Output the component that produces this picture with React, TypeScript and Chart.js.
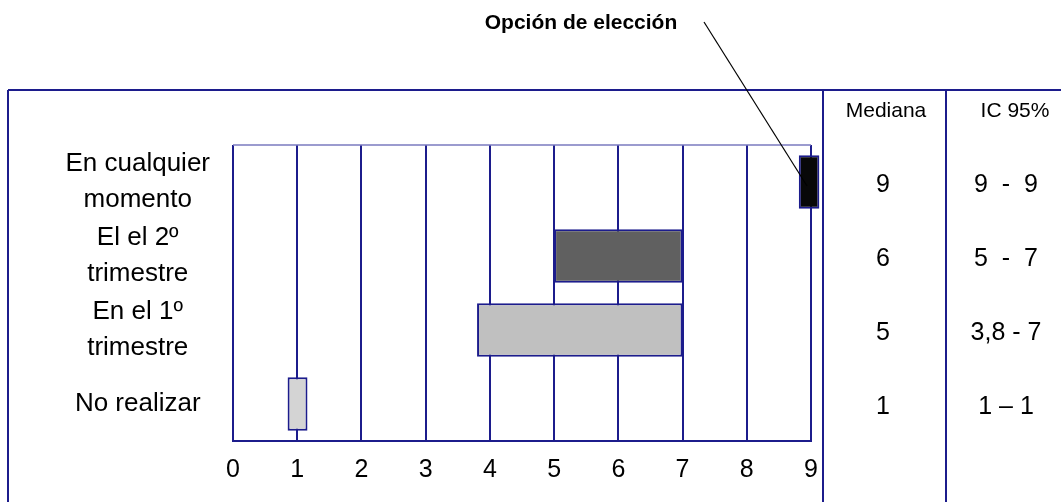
import React, { useEffect, useRef } from 'react';
import { Chart, registerables } from 'chart.js';

Chart.register(...registerables);

const categories: (string | string[])[] = [
  ['En cualquier', 'momento'],
  ['El el 2º', 'trimestre'],
  ['En el 1º', 'trimestre'],
  'No realizar',
];
const lowValues = [8.81, 5, 3.8, 0.85];
const highValues = [9.13, 7, 7, 1.16];
const barColors = ['#080808', '#606060', '#c0c0c0', '#d4d4d4'];
const medianLabels = ['9', '6', '5', '1'];
const ciLabels = ['9  -  9', '5  -  7', '3,8 - 7', '1 – 1'];
const tableHeaders = ['Mediana', 'IC 95%'];
const calloutText = 'Opción de elección';
const calloutIndex = 0;

const NAVY = '#1c1c8c';
const FONT = "'Liberation Sans', Arial, sans-serif";

const framePlugin = {
  id: 'framePlugin',
  afterDraw(chart: any) {
    const ctx = chart.ctx as CanvasRenderingContext2D;
    const area = chart.chartArea;
    const xs = chart.scales.x;
    const ys = chart.scales.y;
    const W = chart.width;
    const H = chart.height;
    ctx.save();
    // top border of plot
    ctx.strokeStyle = '#7a7abf';
    ctx.lineWidth = 1.5;
    ctx.beginPath();
    ctx.moveTo(area.left, area.top);
    ctx.lineTo(area.right, area.top);
    ctx.stroke();
    // outer frame
    ctx.strokeStyle = NAVY;
    ctx.lineWidth = 2;
    ctx.beginPath();
    ctx.moveTo(8, 90);
    ctx.lineTo(W, 90);
    ctx.moveTo(8, 90);
    ctx.lineTo(8, H);
    ctx.moveTo(823, 90);
    ctx.lineTo(823, H);
    ctx.moveTo(946, 90);
    ctx.lineTo(946, H);
    ctx.stroke();
    // table
    ctx.fillStyle = '#000';
    ctx.textAlign = 'center';
    ctx.textBaseline = 'middle';
    ctx.font = `21px ${FONT}`;
    ctx.fillText(tableHeaders[0], 886, 111);
    ctx.fillText(tableHeaders[1], 1015, 111);
    ctx.font = `25px ${FONT}`;
    for (let i = 0; i < medianLabels.length; i++) {
      const y = ys.getPixelForValue(i) + 3;
      ctx.fillText(medianLabels[i], 883, y);
      ctx.fillText(ciLabels[i], 1006, y);
    }
    // callout
    ctx.font = `bold 21px ${FONT}`;
    ctx.textBaseline = 'alphabetic';
    ctx.fillText(calloutText, 581, 29);
    const tx = xs.getPixelForValue((lowValues[calloutIndex] + highValues[calloutIndex]) / 2) - 2;
    const ty = ys.getPixelForValue(calloutIndex) + 4;
    ctx.strokeStyle = '#000';
    ctx.lineWidth = 1.2;
    ctx.beginPath();
    ctx.moveTo(704, 22);
    ctx.lineTo(tx, ty);
    ctx.stroke();
    ctx.restore();
  },
};

export default function App() {
  const ref = useRef<HTMLCanvasElement | null>(null);
  useEffect(() => {
    document.body.style.margin = '0';
    if (!ref.current) return;
    const chart = new Chart(ref.current, {
      type: 'bar',
      data: {
        labels: categories,
        datasets: [
          {
            data: lowValues.map((l, i) => [l, highValues[i]]) as any,
            backgroundColor: barColors,
            borderColor: NAVY,
            borderWidth: 2,
            borderSkipped: false,
            barPercentage: 0.72,
            categoryPercentage: 1,
            clip: false as any,
          },
        ],
      },
      options: {
        indexAxis: 'y',
        animation: false,
        responsive: false,
        devicePixelRatio: 1,
        layout: { padding: { top: 145, right: 250, left: 0, bottom: 0 } },
        plugins: { legend: { display: false }, tooltip: { enabled: false } },
        scales: {
          x: {
            type: 'linear',
            min: 0,
            max: 9,
            afterFit: (s: any) => {
              s.height = 61;
            },
            ticks: {
              stepSize: 1,
              color: '#000',
              padding: 14,
              font: { family: FONT, size: 25 },
            },
            grid: { color: NAVY, lineWidth: 2, drawTicks: false },
            border: { color: NAVY, width: 2 },
          },
          y: {
            type: 'category',
            afterFit: (s: any) => {
              s.width = 233;
            },
            ticks: {
              autoSkip: false,
              color: '#000',
              crossAlign: 'center',
              padding: 23,
              font: { family: FONT, size: 26, lineHeight: 1.38 },
            },
            grid: { display: false, drawTicks: false },
            border: { display: false },
          },
        },
      },
      plugins: [framePlugin],
    });
    return () => chart.destroy();
  }, []);
  return (
    <div style={{ position: 'absolute', left: 0, top: 0, width: 1061, height: 502 }}>
      <canvas ref={ref} width={1061} height={502} />
    </div>
  );
}
